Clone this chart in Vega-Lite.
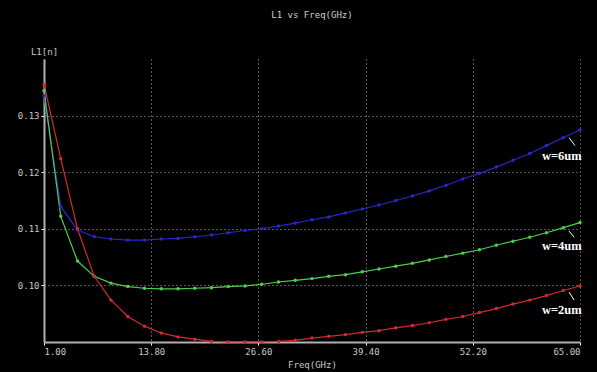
{
  "$schema": "https://vega.github.io/schema/vega-lite/v6.json",
  "width": 536,
  "height": 283,
  "autosize": {"type": "none"},
  "padding": {"left": 44, "top": 59, "right": 17, "bottom": 30},
  "background": "black",
  "title": {"text": "L1 vs Freq(GHz)", "frame": "group", "anchor": "middle", "orient": "top", "offset": 27, "font": "DejaVu Sans Mono", "fontSize": 9, "fontWeight": "normal", "color": "#d0d0d0"},
  "config": {"view": {"stroke": null}},
  "datasets": {
    "curves": [
      {"f": 1, "L": 0.1335, "w": "w=6um"}, {"f": 3, "L": 0.1139, "w": "w=6um"}, {"f": 5, "L": 0.1098, "w": "w=6um"}, {"f": 7, "L": 0.1086, "w": "w=6um"},
      {"f": 9, "L": 0.1082, "w": "w=6um"}, {"f": 11, "L": 0.1080, "w": "w=6um"}, {"f": 13, "L": 0.1080, "w": "w=6um"}, {"f": 15, "L": 0.1082, "w": "w=6um"},
      {"f": 17, "L": 0.1083, "w": "w=6um"}, {"f": 19, "L": 0.1086, "w": "w=6um"}, {"f": 21, "L": 0.1089, "w": "w=6um"}, {"f": 23, "L": 0.1093, "w": "w=6um"},
      {"f": 25, "L": 0.1097, "w": "w=6um"}, {"f": 27, "L": 0.1100, "w": "w=6um"}, {"f": 29, "L": 0.1105, "w": "w=6um"}, {"f": 31, "L": 0.1110, "w": "w=6um"},
      {"f": 33, "L": 0.1116, "w": "w=6um"}, {"f": 35, "L": 0.1121, "w": "w=6um"}, {"f": 37, "L": 0.1128, "w": "w=6um"}, {"f": 39, "L": 0.1135, "w": "w=6um"},
      {"f": 41, "L": 0.1142, "w": "w=6um"}, {"f": 43, "L": 0.1150, "w": "w=6um"}, {"f": 45, "L": 0.1158, "w": "w=6um"}, {"f": 47, "L": 0.1167, "w": "w=6um"},
      {"f": 49, "L": 0.1177, "w": "w=6um"}, {"f": 51, "L": 0.1188, "w": "w=6um"}, {"f": 53, "L": 0.1198, "w": "w=6um"}, {"f": 55, "L": 0.1209, "w": "w=6um"},
      {"f": 57, "L": 0.1221, "w": "w=6um"}, {"f": 59, "L": 0.1233, "w": "w=6um"}, {"f": 61, "L": 0.1247, "w": "w=6um"}, {"f": 63, "L": 0.1261, "w": "w=6um"},
      {"f": 65, "L": 0.1275, "w": "w=6um"},
      {"f": 1, "L": 0.1344, "w": "w=4um"}, {"f": 3, "L": 0.1122, "w": "w=4um"}, {"f": 5, "L": 0.1043, "w": "w=4um"}, {"f": 7, "L": 0.1016, "w": "w=4um"},
      {"f": 9, "L": 0.1004, "w": "w=4um"}, {"f": 11, "L": 0.0998, "w": "w=4um"}, {"f": 13, "L": 0.0995, "w": "w=4um"}, {"f": 15, "L": 0.0994, "w": "w=4um"},
      {"f": 17, "L": 0.0994, "w": "w=4um"}, {"f": 19, "L": 0.0995, "w": "w=4um"}, {"f": 21, "L": 0.0996, "w": "w=4um"}, {"f": 23, "L": 0.0998, "w": "w=4um"},
      {"f": 25, "L": 0.0999, "w": "w=4um"}, {"f": 27, "L": 0.1002, "w": "w=4um"}, {"f": 29, "L": 0.1006, "w": "w=4um"}, {"f": 31, "L": 0.1009, "w": "w=4um"},
      {"f": 33, "L": 0.1012, "w": "w=4um"}, {"f": 35, "L": 0.1016, "w": "w=4um"}, {"f": 37, "L": 0.1019, "w": "w=4um"}, {"f": 39, "L": 0.1024, "w": "w=4um"},
      {"f": 41, "L": 0.1029, "w": "w=4um"}, {"f": 43, "L": 0.1034, "w": "w=4um"}, {"f": 45, "L": 0.1039, "w": "w=4um"}, {"f": 47, "L": 0.1045, "w": "w=4um"},
      {"f": 49, "L": 0.1051, "w": "w=4um"}, {"f": 51, "L": 0.1057, "w": "w=4um"}, {"f": 53, "L": 0.1063, "w": "w=4um"}, {"f": 55, "L": 0.1071, "w": "w=4um"},
      {"f": 57, "L": 0.1078, "w": "w=4um"}, {"f": 59, "L": 0.1085, "w": "w=4um"}, {"f": 61, "L": 0.1093, "w": "w=4um"}, {"f": 63, "L": 0.1102, "w": "w=4um"},
      {"f": 65, "L": 0.1111, "w": "w=4um"},
      {"f": 1, "L": 0.1355, "w": "w=2um"}, {"f": 3, "L": 0.1224, "w": "w=2um"}, {"f": 5, "L": 0.1100, "w": "w=2um"}, {"f": 7, "L": 0.1016, "w": "w=2um"},
      {"f": 9, "L": 0.0974, "w": "w=2um"}, {"f": 11, "L": 0.0945, "w": "w=2um"}, {"f": 13, "L": 0.0928, "w": "w=2um"}, {"f": 15, "L": 0.0916, "w": "w=2um"},
      {"f": 17, "L": 0.0909, "w": "w=2um"}, {"f": 19, "L": 0.0905, "w": "w=2um"}, {"f": 21, "L": 0.0901, "w": "w=2um"}, {"f": 23, "L": 0.0900, "w": "w=2um"},
      {"f": 25, "L": 0.0900, "w": "w=2um"}, {"f": 27, "L": 0.0900, "w": "w=2um"}, {"f": 29, "L": 0.0901, "w": "w=2um"}, {"f": 31, "L": 0.0903, "w": "w=2um"},
      {"f": 33, "L": 0.0907, "w": "w=2um"}, {"f": 35, "L": 0.0910, "w": "w=2um"}, {"f": 37, "L": 0.0913, "w": "w=2um"}, {"f": 39, "L": 0.0917, "w": "w=2um"},
      {"f": 41, "L": 0.0920, "w": "w=2um"}, {"f": 43, "L": 0.0925, "w": "w=2um"}, {"f": 45, "L": 0.0929, "w": "w=2um"}, {"f": 47, "L": 0.0934, "w": "w=2um"},
      {"f": 49, "L": 0.0940, "w": "w=2um"}, {"f": 51, "L": 0.0945, "w": "w=2um"}, {"f": 53, "L": 0.0952, "w": "w=2um"}, {"f": 55, "L": 0.0959, "w": "w=2um"},
      {"f": 57, "L": 0.0967, "w": "w=2um"}, {"f": 59, "L": 0.0974, "w": "w=2um"}, {"f": 61, "L": 0.0982, "w": "w=2um"}, {"f": 63, "L": 0.0991, "w": "w=2um"},
      {"f": 65, "L": 0.0999, "w": "w=2um"}
    ],
    "labels": [
      {"f": 65.2, "L": 0.1229, "text": "w=6um", "f0": 63.7, "L0": 0.1261, "f1": 64.4, "L1": 0.1247},
      {"f": 65.2, "L": 0.1069, "text": "w=4um", "f0": 63.7, "L0": 0.1096, "f1": 64.3, "L1": 0.1085},
      {"f": 65.2, "L": 0.0957, "text": "w=2um", "f0": 63.7, "L0": 0.0988, "f1": 64.3, "L1": 0.0974}
    ]
  },
  "layer": [
    {
      "data": {"name": "curves"},
      "mark": {"type": "line", "strokeWidth": 1.2, "point": {"filled": true, "size": 12}},
      "encoding": {
        "x": {"field": "f", "type": "quantitative",
          "scale": {"domain": [1, 65], "nice": false, "zero": false},
          "axis": {"title": "Freq(GHz)", "values": [1, 13.8, 26.6, 39.4, 52.2, 65], "format": ".2f",
            "domainColor": "#b0b0b0", "domainWidth": 2, "grid": true, "gridColor": "#b0b0b0", "gridDash": [1, 3], "gridWidth": 1,
            "tickColor": "white", "tickSize": 3, "labelFont": "DejaVu Sans Mono", "labelFontSize": 9, "labelColor": "#c8c8c8", "labelPadding": 2,
            "titleFont": "DejaVu Sans Mono", "titleFontSize": 9, "titleFontWeight": "normal", "titleColor": "#c8c8c8", "titlePadding": 4}},
        "y": {"field": "L", "type": "quantitative",
          "scale": {"domain": [0.09, 0.14], "nice": false, "zero": false},
          "axis": {"title": "L1[n]", "values": [0.10, 0.11, 0.12, 0.13], "format": ".2f",
            "domainColor": "#b0b0b0", "domainWidth": 2, "grid": true, "gridColor": "#b0b0b0", "gridDash": [1, 3], "gridWidth": 1,
            "tickColor": "white", "tickSize": 3, "labelFont": "DejaVu Sans Mono", "labelFontSize": 9, "labelColor": "#c8c8c8", "labelPadding": 2,
            "titleFont": "DejaVu Sans Mono", "titleFontSize": 9, "titleFontWeight": "normal", "titleColor": "#c8c8c8",
            "titleAngle": 0, "titleX": 0, "titleY": -8, "titleAlign": "center", "titleBaseline": "middle"}},
        "color": {"field": "w", "type": "nominal", "legend": null,
          "scale": {"domain": ["w=2um", "w=4um", "w=6um"], "range": ["#d42a2a", "#4fcf4f", "#2828cc"]}}
      }
    },
    {
      "data": {"name": "labels"},
      "mark": {"type": "rule", "color": "white", "strokeWidth": 1},
      "encoding": {
        "x": {"field": "f0", "type": "quantitative"},
        "y": {"field": "L0", "type": "quantitative"},
        "x2": {"field": "f1"},
        "y2": {"field": "L1"}
      }
    },
    {
      "data": {"name": "labels"},
      "mark": {"type": "text", "align": "right", "baseline": "middle", "font": "Liberation Serif", "fontWeight": "bold", "fontSize": 12.5, "color": "white"},
      "encoding": {
        "x": {"field": "f", "type": "quantitative"},
        "y": {"field": "L", "type": "quantitative"},
        "text": {"field": "text"}
      }
    }
  ]
}
